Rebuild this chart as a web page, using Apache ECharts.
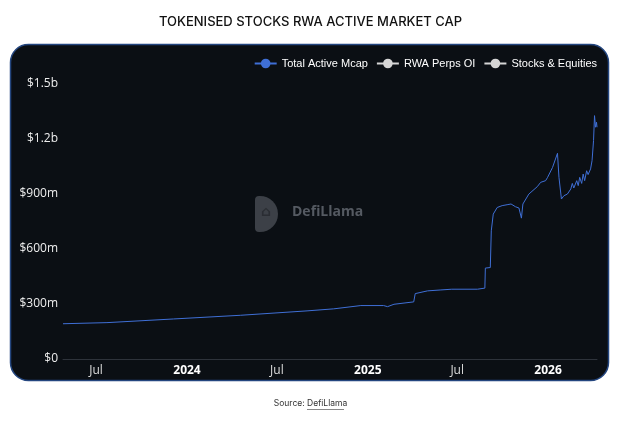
<!DOCTYPE html>
<html>
<head>
<meta charset="utf-8">
<script src="https://cdn.jsdelivr.net/npm/echarts@6/dist/echarts.min.js"></script>
<style>
  html, body { margin: 0; padding: 0; background: #fff; }
  #chart { width: 621px; height: 423px; }
</style>
</head>
<body>
<div id="chart"></div>
<script>
const dates = ['2023-04-25','2023-07-23','2023-12-05','2024-04-18','2024-08-31','2024-10-24','2024-12-18',
  '2025-02-02','2025-02-10','2025-02-23','2025-04-04','2025-04-07','2025-05-02','2025-05-29','2025-06-20',
  '2025-08-11','2025-08-26','2025-08-27','2025-09-06','2025-09-08','2025-09-12','2025-09-20','2025-09-30',
  '2025-10-10','2025-10-18','2025-10-27','2025-11-03','2025-11-08','2025-11-11','2025-11-23','2025-12-10',
  '2025-12-17','2025-12-27','2025-12-31','2026-01-10','2026-01-20','2026-01-23','2026-01-28','2026-02-02',
  '2026-02-09','2026-02-16','2026-02-19','2026-02-22','2026-02-28','2026-03-03','2026-03-06','2026-03-10',
  '2026-03-13','2026-03-16','2026-03-20','2026-03-23','2026-03-28','2026-03-31','2026-04-03','2026-04-05',
  '2026-04-07','2026-04-09','2026-04-10'];
// Total Active Mcap, in $m
const totalMcap = [192,198,218,238,262,273,291,291,285,298,311,356,371,376,380,
  380,386,495,498,698,789,825,835,840,844,829,822,767,844,898,938,
  962,971,989,1043,1120,989,871,889,898,926,956,931,971,944,989,956,
  1007,971,1025,1004,1035,1080,1189,1325,1262,1289,1262];
const seriesNames = ['Total Active Mcap', 'RWA Perps OI', 'Stocks & Equities'];
const yTicks = [0, 300, 600, 900, 1200, 1500];

const chart = echarts.init(document.getElementById('chart'));

const fmtMoney = (v) => {
  if (v === 0) return '$0';
  if (v >= 1000) return '$' + (v / 1000) + 'b';
  return '$' + v + 'm';
};

const option = {
  backgroundColor: '#fff',
  animation: false,
  title: {
    text: 'TOKENISED STOCKS RWA ACTIVE MARKET CAP',
    left: 'center',
    top: 11,
    textStyle: { fontFamily: 'Inter', fontSize: 13, fontWeight: 500, color: '#111' }
  },
  graphic: [
    {
      type: 'rect', z: -10, silent: true,
      shape: { x: 10.5, y: 44.5, width: 598, height: 336, r: 18 },
      style: { fill: '#0b0f14', stroke: '#24467f', lineWidth: 1.5 }
    },
    {
      type: 'rect', z: -5, silent: true,
      shape: { x: 255, y: 196, width: 23, height: 36, r: [4, 18, 18, 4] },
      style: { fill: '#3c4047' }
    },
    {
      type: 'text', z: -4, silent: true,
      left: 261, top: 205,
      style: { text: '⌂', fill: '#2a2d33', font: 'bold 14px "DejaVu Sans"' }
    },
    {
      type: 'text', z: -5, silent: true,
      left: 292, top: 205,
      style: { text: 'DefiLlama', fill: '#555a62', font: 'bold 14px "Open Sans"' }
    },
    {
      type: 'text', silent: true,
      left: 'center', top: 399,
      style: {
        text: '{a|Source: }{b|DefiLlama}',
        rich: {
          a: { fontFamily: 'Inter', fontSize: 8.5, fill: '#333' },
          b: { fontFamily: 'Inter', fontSize: 8.5, fill: '#333' }
        }
      }
    },
    {
      type: 'line', silent: true,
      shape: { x1: 307, y1: 409.5, x2: 344, y2: 409.5 },
      style: { stroke: '#555', lineWidth: 0.7 }
    }
  ],
  legend: {
    data: seriesNames,
    right: 19,
    top: 53,
    itemGap: 8,
    itemWidth: 22,
    itemHeight: 12,
    textStyle: { color: '#fff', fontFamily: 'Arial', fontSize: 11 }
  },
  grid: { left: 63, right: 24, top: 83.5, bottom: 64 },
  xAxis: {
    type: 'time',
    min: 'dataMin',
    max: 'dataMax',
    minInterval: 180 * 86400000,
    maxInterval: 185 * 86400000,
    axisLine: { lineStyle: { color: '#2e333b', width: 1 } },
    axisTick: { show: false },
    splitLine: { show: false },
    axisLabel: {
      margin: 6,
      hideOverlap: false,
      formatter: (val) => {
        const d = new Date(val);
        if (d.getMonth() === 0) return '{y|' + d.getFullYear() + '}';
        return '{m|' + ['Jan','Feb','Mar','Apr','May','Jun','Jul','Aug','Sep','Oct','Nov','Dec'][d.getMonth()] + '}';
      },
      rich: {
        y: { fontFamily: 'Open Sans', fontSize: 12, fontWeight: 'bold', color: '#fff' },
        m: { fontFamily: 'Open Sans', fontSize: 12, color: '#ddd' }
      }
    }
  },
  yAxis: {
    type: 'value',
    min: yTicks[0],
    max: yTicks[yTicks.length - 1],
    interval: 300,
    axisLine: { show: false },
    axisTick: { show: false },
    splitLine: { show: false },
    axisLabel: {
      margin: 5,
      fontFamily: 'Open Sans',
      fontSize: 12,
      color: '#eee',
      formatter: fmtMoney
    }
  },
  series: [
    {
      name: seriesNames[0],
      type: 'line',
      symbol: 'circle',
      symbolSize: 8,
      showSymbol: false,
      color: '#3f6fd6',
      lineStyle: { width: 1 },
      data: dates.map((d, i) => [d, totalMcap[i]])
    },
    { name: seriesNames[1], type: 'line', symbol: 'circle', symbolSize: 8, color: '#d6d6d6', data: [] },
    { name: seriesNames[2], type: 'line', symbol: 'circle', symbolSize: 8, color: '#d6d6d6', data: [] }
  ]
};

chart.setOption(option);
</script>
</body>
</html>
